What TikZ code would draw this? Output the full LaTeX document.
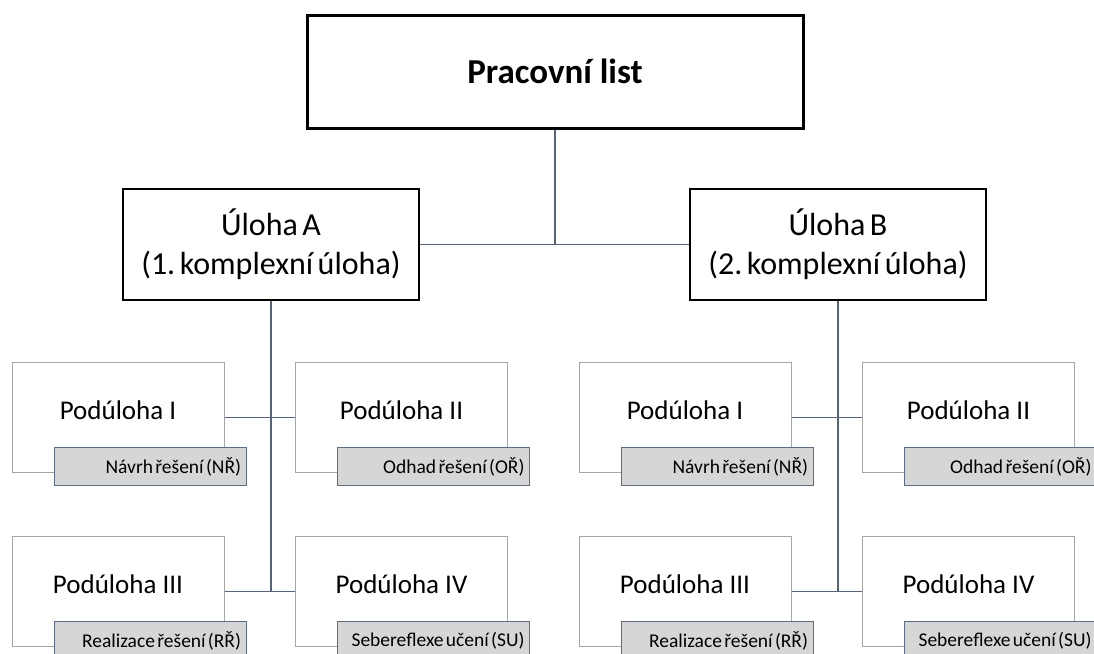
\documentclass[tikz,border=0pt]{standalone}
\usepackage{fontspec}
\setmainfont{Carlito}
\usepackage{tikz}
\usetikzlibrary{positioning}
\frenchspacing
\newcommand{\tightspaces}[1]{\spaceskip=#1em\relax}

\definecolor{connblue}{HTML}{56647A}
\definecolor{boxgray}{HTML}{A6A6A6}
\definecolor{tagfill}{HTML}{D6D6D6}
\definecolor{tagline}{HTML}{5E6C82}

\begin{document}
\begin{tikzpicture}[x=1pt,y=-1pt,
  mainbox/.style={draw=black,line width=3pt,minimum width=496pt,minimum height=113pt,font=\bfseries\fontsize{35}{40}\selectfont},
  taskbox/.style={draw=black,line width=2pt,minimum width=296pt,minimum height=111pt,align=center,font={\fontsize{32}{39}\selectfont\tightspaces{0.14}}},
  subbox/.style={draw=boxgray,line width=1pt,minimum width=212pt,minimum height=110pt,text height=20pt,text depth=17pt,font=\fontsize{27}{32}\selectfont},
  tagbox/.style={draw=tagline,fill=tagfill,line width=1pt,anchor=south east,inner xsep=5pt,text width=182pt,align=right,minimum height=38pt,font=\fontsize{19.5}{22}\selectfont,execute at begin node=\tightspaces{0.12}},
  conn/.style={draw=connblue,line width=1.5pt}]
  \useasboundingbox (0,0) rectangle (1094,653);
  \clip (0,0) rectangle (1094,653);

  % top level
  \node[mainbox] (list) at (555,71.5) {Pracovní list};
  \node[taskbox] (ua) at (271,244.5) {Úloha A\\(1. komplexní úloha)};
  \node[taskbox] (ub) at (838,244.5) {Úloha B\\(2. komplexní úloha)};
  \draw[conn] (list.south) -- (list.south |- ua.east);
  \draw[conn] (ua.east) -- (ub.west);

  % subtasks of each task
  \foreach \g/\t/\x in {a/ua/271,b/ub/838} {
    \node[subbox] (\g1) at (\x-153,417.5) {Podúloha I};
    \node[subbox] (\g2) at (\x+130.5,417.5) {Podúloha II};
    \node[subbox] (\g3) at (\x-153,591.5) {Podúloha III};
    \node[subbox] (\g4) at (\x+130.5,591.5) {Podúloha IV};
    \draw[conn] (\t.south) -- (\t.south |- \g3.east);
    \draw[conn] (\g1.east) -- (\g2.west);
    \draw[conn] (\g3.east) -- (\g4.west);
    \node[tagbox] (\g1t) at ([xshift=22pt,yshift=-13pt]\g1.south east) {Návrh řešení (NŘ)};
    \node[tagbox] (\g2t) at ([xshift=22pt,yshift=-13pt]\g2.south east) {Odhad řešení (OŘ)};
    \node[tagbox] (\g3t) at ([xshift=22pt,yshift=-13pt]\g3.south east) {Realizace řešení (RŘ)};
    \node[tagbox] (\g4t) at ([xshift=22pt,yshift=-13pt]\g4.south east) {Sebereflexe učení (SU)};
  }
\end{tikzpicture}
\end{document}
